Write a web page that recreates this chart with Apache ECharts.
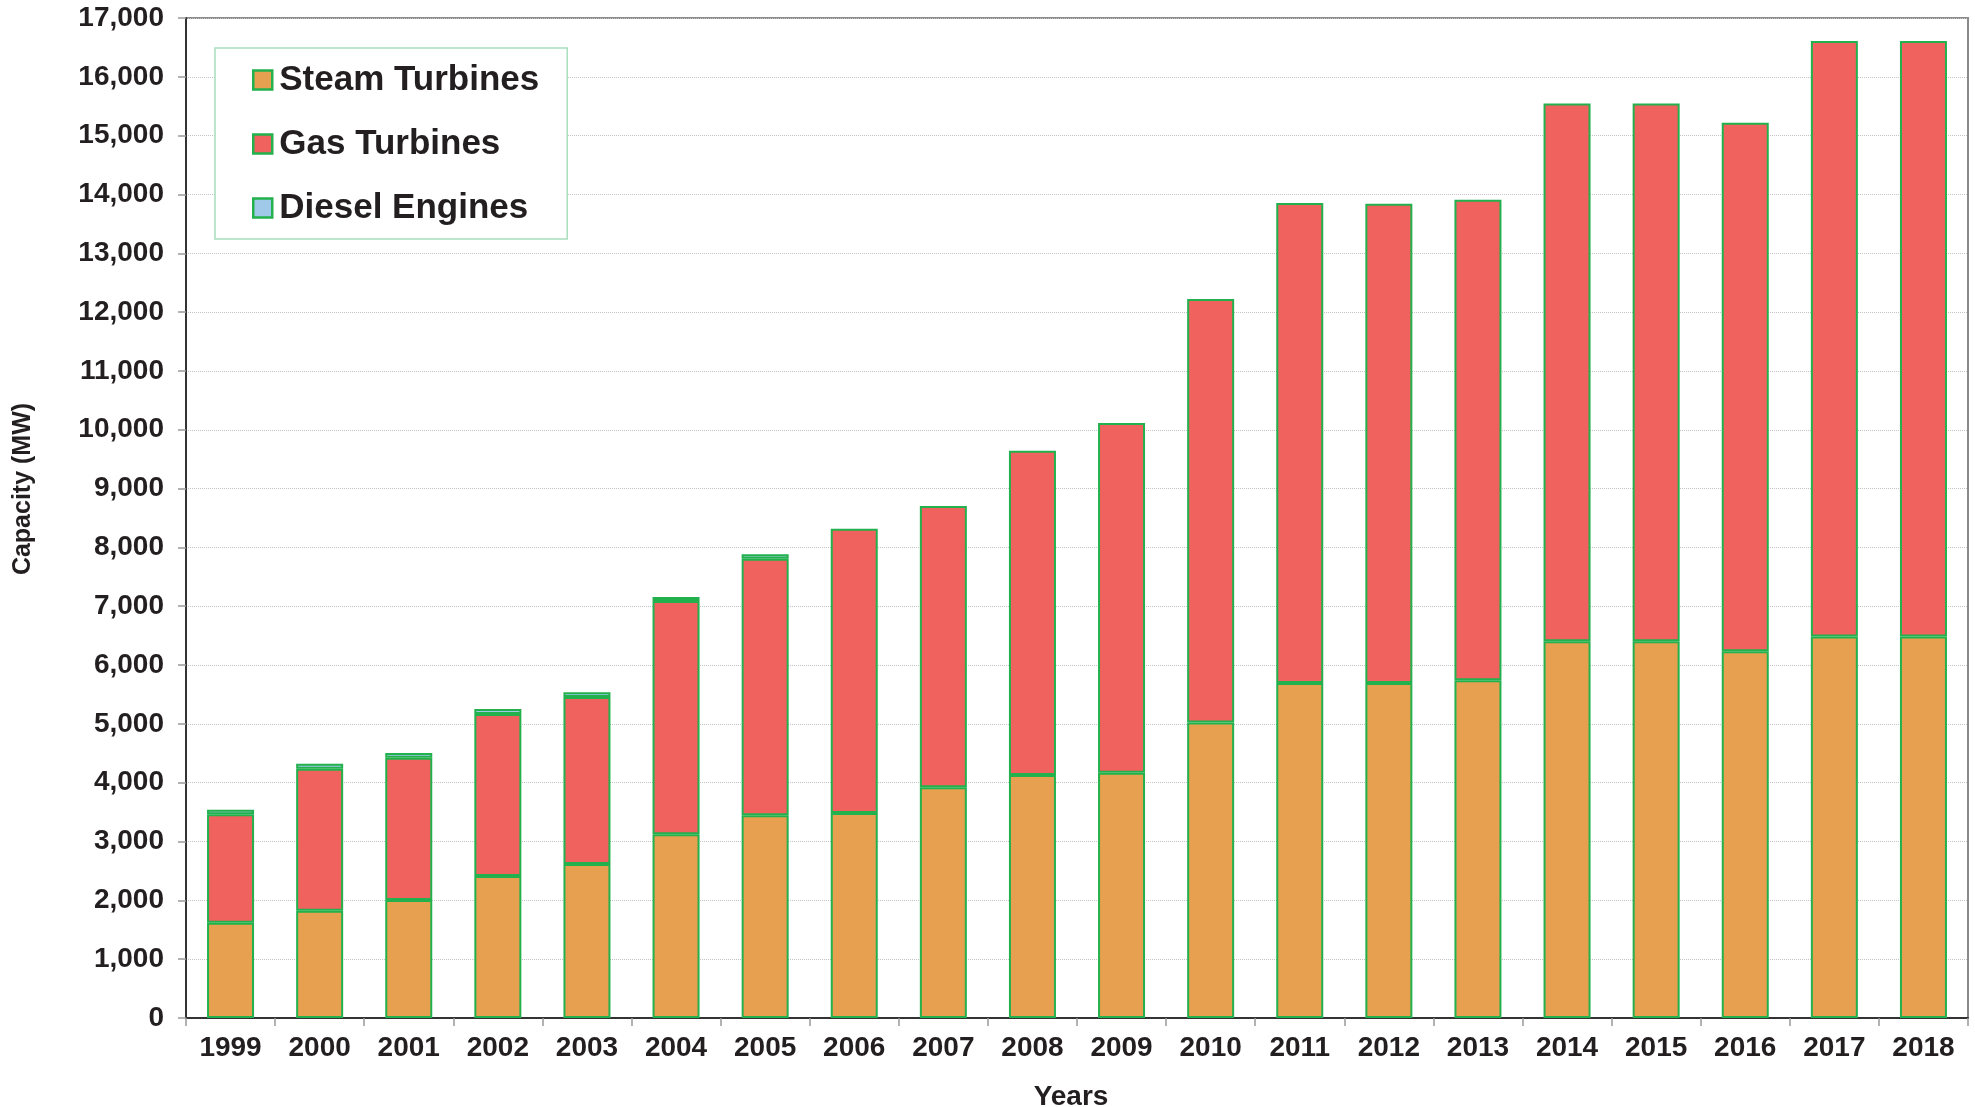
<!DOCTYPE html>
<html>
<head>
<meta charset="utf-8">
<script src="https://cdn.jsdelivr.net/npm/echarts@6/dist/echarts.min.js"></script>
<style>
html,body{margin:0;padding:0;background:#fff;overflow:hidden;}
#chart{width:1975px;height:1107px;}
</style>
</head>
<body>
<div id="chart"></div>
<script>
const years = ['1999','2000','2001','2002','2003','2004','2005','2006','2007','2008','2009','2010','2011','2012','2013','2014','2015','2016','2017','2018'];
const steamTurbines = [1620,1824,2006,2414,2618,3122,3445,3484,3921,4130,4170,5025,5695,5695,5740,6403,6403,6234,6487,6487];
const gasTurbines = [1842,2414,2419,2753,2838,3966,4362,4833,4781,5513,5943,7196,8162,8149,8169,9142,9142,8985,10120,10120];
const dieselEngines = [80,85,80,85,80,70,75,null,null,null,null,null,null,null,null,null,null,null,null,null];
const seriesNames = ['Steam Turbines','Gas Turbines','Diesel Engines'];
const yAxisTitle = 'Capacity (MW)';
const xAxisTitle = 'Years';

const FONT = '"Liberation Sans", Arial, Helvetica, sans-serif';
const TXT = '#231f20';
const GREEN = '#22b14c';
const colors = ['#e6a050','#f0625e','#a0c8e8'];

const chart = echarts.init(document.getElementById('chart'));
const mk = (name, data, i) => ({
  name, type:'bar', stack:'cap', data, barWidth:47,
  itemStyle:{color:colors[i], borderColor:GREEN, borderWidth:2},
  emphasis:{disabled:true}
});
chart.setOption({
  animation:false,
  textStyle:{fontFamily:FONT},
  grid:{left:186, right:7, top:18, bottom:89, containLabel:false, outerBoundsMode:'none',
    show:true, borderColor:'#8a8a8a', borderWidth:2, backgroundColor:'transparent'},
  legend:{
    orient:'vertical', left:215, top:48,
    padding:[14,28,13,37], itemGap:28, itemWidth:19, itemHeight:19,
    backgroundColor:'#fff', borderColor:'#a8e0bc', borderWidth:1.5,
    textStyle:{fontFamily:FONT, fontWeight:'bold', fontSize:35, lineHeight:36, color:TXT, padding:[0,0,0,2]},
    data:seriesNames.map((n,i)=>({name:n, icon:'rect', itemStyle:{color:colors[i], borderColor:GREEN, borderWidth:2.5}}))
  },
  xAxis:{
    type:'category', data:years, boundaryGap:true,
    name:xAxisTitle, nameLocation:'middle', nameGap:65,
    nameTextStyle:{fontFamily:FONT, fontWeight:'bold', fontSize:28, color:TXT, padding:[0,12,0,0]},
    axisLine:{lineStyle:{color:'#333', width:2}},
    axisTick:{show:true, length:8, alignWithLabel:false, lineStyle:{color:'#999', width:1.5}},
    axisLabel:{fontFamily:FONT, fontWeight:'bold', fontSize:28, color:TXT, margin:16},
    splitLine:{show:false}
  },
  yAxis:{
    type:'value', min:0, max:17000, interval:1000,
    name:yAxisTitle, nameLocation:'middle', nameGap:150,
    nameTextStyle:{fontFamily:FONT, fontWeight:'bold', fontSize:25, color:TXT, padding:[0,0,0,58]},
    axisLine:{show:true, lineStyle:{color:'#333', width:2}},
    axisTick:{show:true, length:8, lineStyle:{color:'#999', width:1.5}},
    axisLabel:{fontFamily:FONT, fontWeight:'bold', fontSize:28, color:TXT, margin:22,
      formatter:v=>v.toLocaleString('en-US')},
    splitLine:{show:true, lineStyle:{color:'#c4c4c4', width:1, type:'dotted'}}
  },
  series:[mk(seriesNames[0], steamTurbines, 0), mk(seriesNames[1], gasTurbines, 1), mk(seriesNames[2], dieselEngines, 2)]
});
</script>
</body>
</html>
